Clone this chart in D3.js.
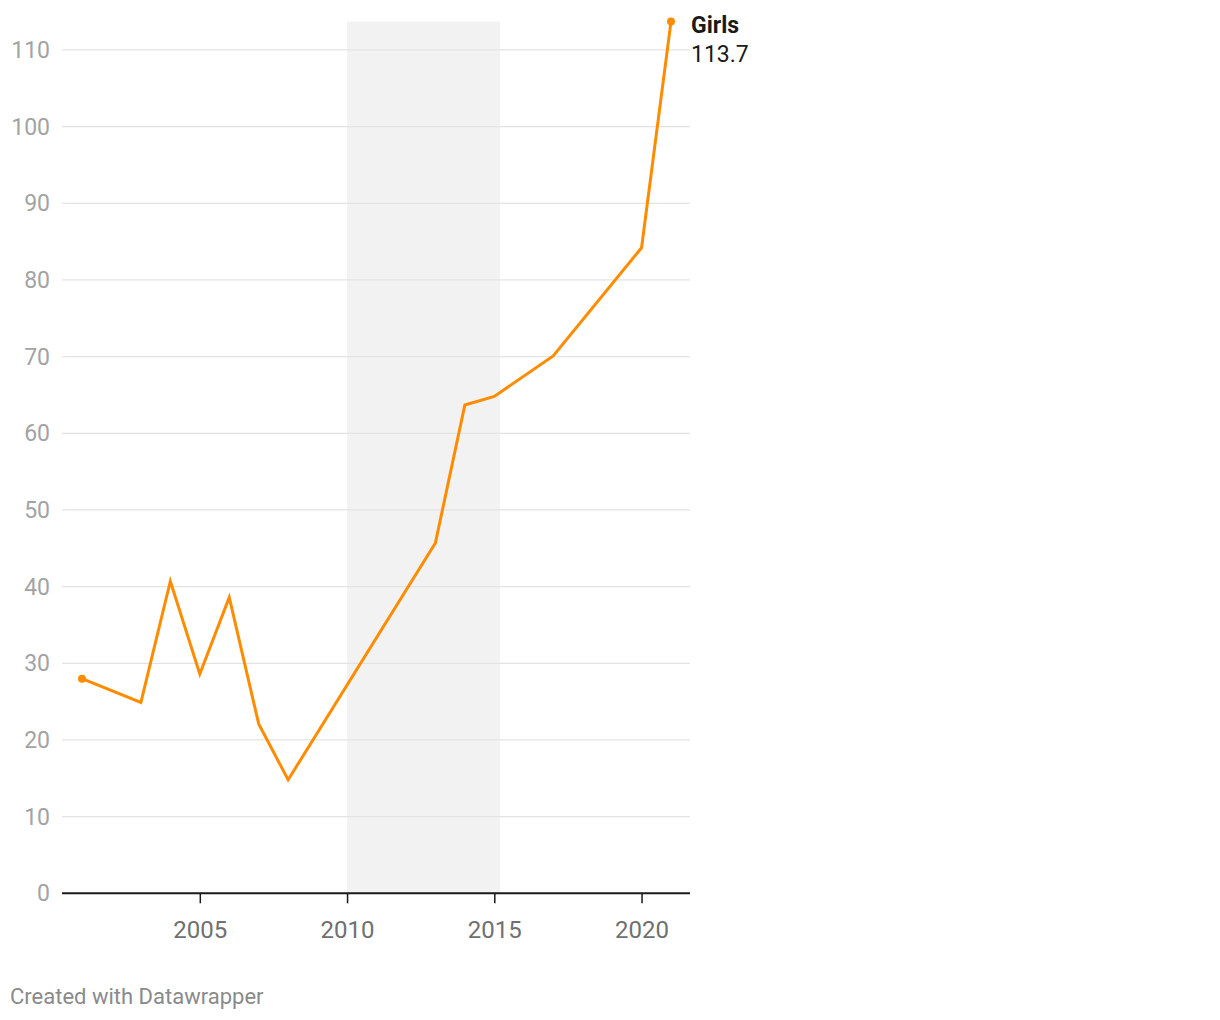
<!DOCTYPE html>
<html>
<head>
<meta charset="utf-8">
<script src="https://cdn.jsdelivr.net/npm/d3@7"></script>
<style>
  html, body { margin: 0; padding: 0; background: #fff; }
  svg { display: block; font-family: Roboto, "Noto Sans", sans-serif; }
</style>
</head>
<body>
<svg id="chart" width="1220" height="1020"></svg>
<script>
// Data
const years  = [2001, 2003, 2004, 2005, 2006, 2007, 2008, 2013, 2014, 2015, 2017, 2020, 2021];
const girls  = [28.0, 24.9, 40.7, 28.6, 38.6, 22.1, 14.8, 45.7, 63.7, 64.8, 70.1, 84.2, 113.7];
const yTicks = [0, 10, 20, 30, 40, 50, 60, 70, 80, 90, 100, 110];
const xTicks = [2005, 2010, 2015, 2020];
const shadeRange = [2010, 2015.2];
const seriesName = "Girls";

const svg = d3.select("#chart");
const plotLeft = 62, plotRight = 690;
const x = d3.scaleLinear().domain([2001, 2021]).range([82, 671]);
const y = d3.scaleLinear().domain([0, 113.7]).range([893.3, 21.6]);

// shaded band
svg.append("rect")
  .attr("x", x(shadeRange[0]))
  .attr("y", y(113.7))
  .attr("width", x(shadeRange[1]) - x(shadeRange[0]))
  .attr("height", y(0) - y(113.7))
  .attr("fill", "#f2f2f2");

// grid lines
svg.append("g").selectAll("line")
  .data(yTicks.filter(d => d > 0))
  .join("line")
  .attr("x1", plotLeft).attr("x2", plotRight)
  .attr("y1", d => y(d)).attr("y2", d => y(d))
  .attr("stroke", "#e3e3e3").attr("stroke-width", 1.2);

// y labels
svg.append("g").selectAll("text")
  .data(yTicks)
  .join("text")
  .attr("x", 50).attr("y", d => y(d))
  .attr("dy", "0.35em")
  .attr("text-anchor", "end")
  .attr("fill", "#a3a3a3")
  .attr("font-size", 23)
  .text(d => d);

// x axis
const xAxis = d3.axisBottom(x).tickValues(xTicks).tickSize(10).tickFormat(d3.format("d"));
const gx = svg.append("g").attr("transform", `translate(0,${y(0)})`).call(xAxis);
gx.select(".domain").remove();
gx.selectAll(".tick line").attr("stroke", "#1a1a1a").attr("stroke-width", 1.5);
gx.selectAll(".tick text").attr("fill", "#707070").attr("font-size", 24)
  .attr("font-family", "Roboto, sans-serif").attr("y", 45).attr("dy", null);
svg.append("line")
  .attr("x1", plotLeft).attr("x2", plotRight)
  .attr("y1", y(0)).attr("y2", y(0))
  .attr("stroke", "#1a1a1a").attr("stroke-width", 2);

// line
const data = years.map((yr, i) => ({ yr, v: girls[i] }));
const line = d3.line().x(d => x(d.yr)).y(d => y(d.v));
svg.append("path")
  .datum(data)
  .attr("d", line)
  .attr("fill", "none")
  .attr("stroke", "#ff8c00")
  .attr("stroke-width", 3)
  .attr("stroke-linejoin", "miter");

// end dots
svg.append("g").selectAll("circle")
  .data([data[0], data[data.length - 1]])
  .join("circle")
  .attr("cx", d => x(d.yr)).attr("cy", d => y(d.v))
  .attr("r", 4).attr("fill", "#ff8c00");

// label
const last = data[data.length - 1];
svg.append("text")
  .attr("x", 691).attr("y", 33)
  .attr("font-size", 23).attr("font-weight", "bold").attr("fill", "#1a1a1a")
  .text(seriesName);
svg.append("text")
  .attr("x", 691).attr("y", 62)
  .attr("font-size", 23).attr("fill", "#1a1a1a")
  .text(last.v.toFixed(1));

// footer
svg.append("text")
  .attr("x", 10).attr("y", 1004)
  .attr("font-size", 22).attr("fill", "#8a8a8a")
  .text("Created with Datawrapper");
</script>
</body>
</html>
